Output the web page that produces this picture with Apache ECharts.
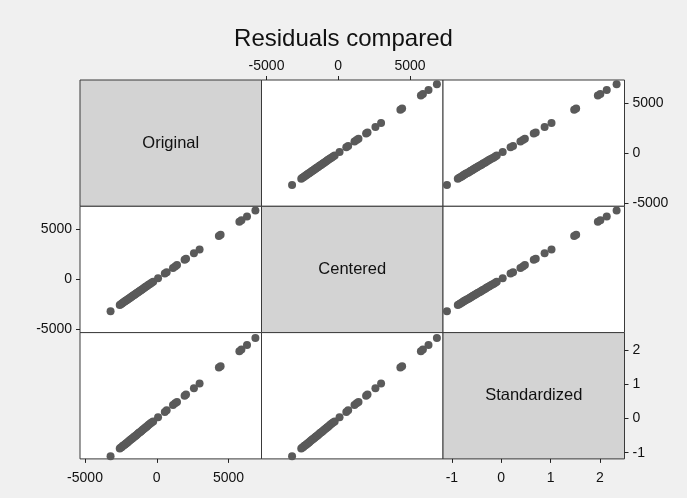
<!DOCTYPE html>
<html>
<head>
<meta charset="utf-8">
<title>Residuals compared</title>
<script src="https://cdn.jsdelivr.net/npm/echarts@6/dist/echarts.min.js"></script>
<style>
  html, body { margin: 0; padding: 0; background: #f0f0f0; }
  #main { width: 687px; height: 498px; }
</style>
</head>
<body>
<div id="main"></div>
<script>
// variable names on the diagonal
var varNames = ['Original', 'Centered', 'Standardized'];

// residuals
var original = [-3220, -2580, -2500, -2430, -2360, -2290, -2220, -2160, -2100, -2040,
  -1980, -1910, -1850, -1790, -1730, -1670, -1610, -1550, -1490, -1430,
  -1370, -1300, -1240, -1180, -1110, -1050, -980, -910, -840, -770,
  -700, -620, -540, -450, -360, -250, 90, 560, 690, 1130,
  1280, 1410, 1940, 2040, 2590, 2985, 4330, 4450, 5760, 5900,
  6290, 6875];
var centered = [-3220, -2580, -2500, -2430, -2360, -2290, -2220, -2160, -2100, -2040,
  -1980, -1910, -1850, -1790, -1730, -1670, -1610, -1550, -1490, -1430,
  -1370, -1300, -1240, -1180, -1110, -1050, -980, -910, -840, -770,
  -700, -620, -540, -450, -360, -250, 90, 560, 690, 1130,
  1280, 1410, 1940, 2040, 2590, 2985, 4330, 4450, 5760, 5900,
  6290, 6875];
var standardized = [-1.10, -0.88, -0.85, -0.83, -0.80, -0.78, -0.76, -0.74, -0.72, -0.70,
  -0.67, -0.65, -0.63, -0.61, -0.59, -0.57, -0.55, -0.53, -0.51, -0.49,
  -0.47, -0.44, -0.42, -0.40, -0.38, -0.36, -0.33, -0.31, -0.29, -0.26,
  -0.24, -0.21, -0.18, -0.15, -0.12, -0.09, 0.03, 0.19, 0.24, 0.39,
  0.44, 0.48, 0.66, 0.70, 0.88, 1.02, 1.48, 1.52, 1.96, 2.01,
  2.14, 2.34];

// tick labels per variable
var ticksResid = [-5000, 0, 5000];
var ticksStd = [-1, 0, 1, 2];

var vars = [original, centered, standardized];
var ranges = [[-5350, 7300], [-5350, 7300], [-1.18, 2.5]];
var ticks = [ticksResid, ticksResid, ticksStd];

var colLeft = [80, 261.5, 443];
var rowTop = [80, 206.3, 332.6];
var cellW = 181.5, cellH = 126.3;
var font = '"Liberation Sans", Arial, sans-serif';

function plain(v) { return String(v); }

var grids = [], xAxes = [], yAxes = [], series = [], texts = [];

for (var r = 0; r < 3; r++) {
  for (var c = 0; c < 3; c++) {
    var k = r * 3 + c;
    var diag = r === c;
    grids.push({
      left: colLeft[c], top: rowTop[r], width: cellW, height: cellH,
      show: true,
      backgroundColor: diag ? '#d3d3d3' : '#ffffff',
      borderColor: '#3a3a3a', borderWidth: 1
    });

    // which edges carry labels
    var xPos = null;
    if (r === 0 && c === 1) xPos = 'top';
    if (r === 2 && (c === 0 || c === 2)) xPos = 'bottom';
    var yPos = null;
    if (c === 0 && r === 1) yPos = 'left';
    if (c === 2 && (r === 0 || r === 2)) yPos = 'right';

    xAxes.push({
      type: 'value', gridIndex: k,
      min: ranges[c][0], max: ranges[c][1],
      position: xPos || 'bottom',
      splitLine: { show: false },
      axisLine: { show: false, onZero: false },
      axisTick: { show: !!xPos, length: 4, lineStyle: { color: '#222' }, customValues: ticks[c] },
      axisLabel: { show: !!xPos, customValues: ticks[c], formatter: plain,
        color: '#111', fontSize: 14, fontFamily: font, margin: xPos === 'top' ? 7 : 12 }
    });
    yAxes.push({
      type: 'value', gridIndex: k,
      min: ranges[r][0], max: ranges[r][1],
      position: yPos || 'left',
      splitLine: { show: false },
      axisLine: { show: false, onZero: false },
      axisTick: { show: !!yPos, length: 4, lineStyle: { color: '#222' }, customValues: ticks[r] },
      axisLabel: { show: !!yPos, customValues: ticks[r], formatter: plain,
        color: '#111', fontSize: 14, fontFamily: font, margin: 8 }
    });

    if (diag) {
      texts.push({
        type: 'text',
        x: colLeft[c] + cellW / 2, y: rowTop[r] + cellH / 2,
        style: { text: varNames[r], fontSize: 16.5, fontFamily: font, fill: '#111',
          align: 'center', verticalAlign: 'middle' }
      });
    } else {
      var pts = [];
      for (var i = 0; i < vars[c].length; i++) {
        pts.push([vars[c][i], vars[r][i]]);
      }
      series.push({
        type: 'scatter', xAxisIndex: k, yAxisIndex: k,
        data: pts, symbolSize: 8,
        itemStyle: { color: '#5a5a5a', opacity: 1 },
        silent: true, animation: false
      });
    }
  }
}

var myChart = echarts.init(document.getElementById('main'));
myChart.setOption({
  backgroundColor: '#f0f0f0',
  animation: false,
  title: {
    text: 'Residuals compared',
    left: 'center',
    top: 22,
    textStyle: { fontSize: 24, fontWeight: 'normal', color: '#111', fontFamily: font }
  },
  grid: grids,
  xAxis: xAxes,
  yAxis: yAxes,
  series: series,
  graphic: texts
});
</script>
</body>
</html>
